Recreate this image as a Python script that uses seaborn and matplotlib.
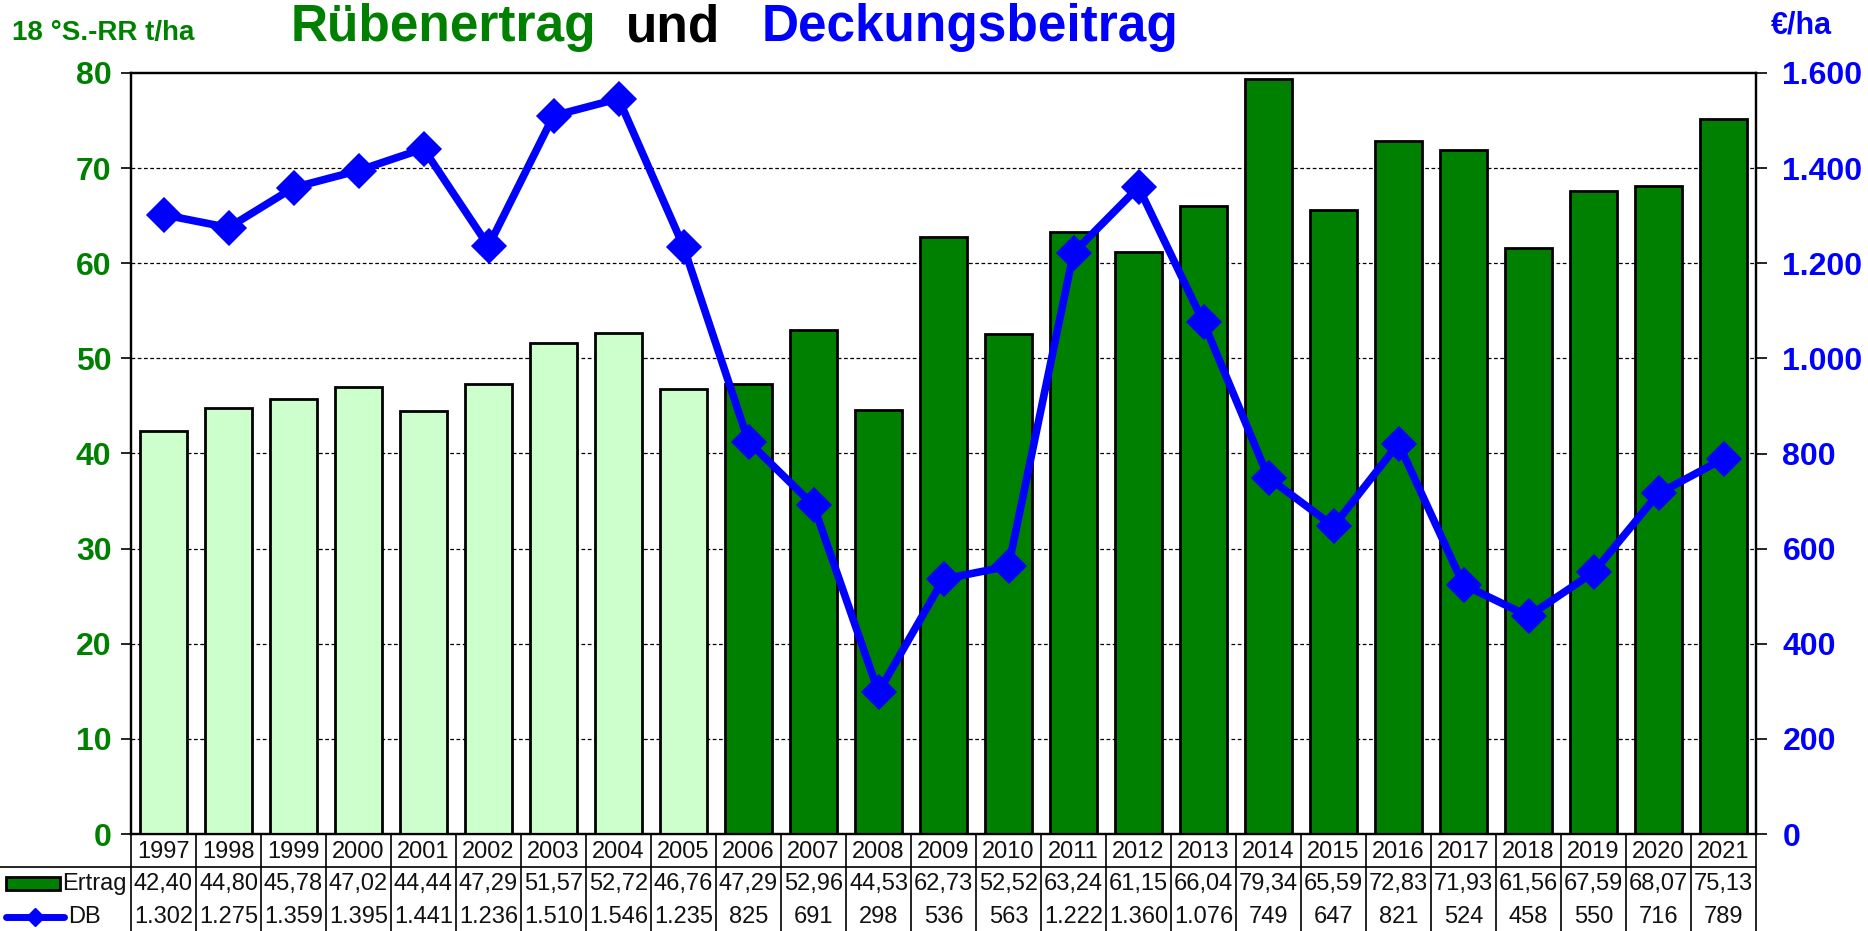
import matplotlib
matplotlib.use('Agg')
import matplotlib.pyplot as plt
import seaborn as sns
import pandas as pd
from matplotlib.transforms import blended_transform_factory
from matplotlib.lines import Line2D
from matplotlib.patches import Rectangle

# ---------------- data ----------------
years = [str(y) for y in range(1997, 2022)]
ertrag = [42.40, 44.80, 45.78, 47.02, 44.44, 47.29, 51.57, 52.72, 46.76,
          47.29, 52.96, 44.53, 62.73, 52.52, 63.24, 61.15, 66.04, 79.34,
          65.59, 72.83, 71.93, 61.56, 67.59, 68.07, 75.13]
db = [1302, 1275, 1359, 1395, 1441, 1236, 1510, 1546, 1235,
      825, 691, 298, 536, 563, 1222, 1360, 1076, 749,
      647, 821, 524, 458, 550, 716, 789]
periode = ['bis 2005'] * 9 + ['ab 2006'] * 16
left_ticks = [0, 10, 20, 30, 40, 50, 60, 70, 80]
right_ticks = [0, 200, 400, 600, 800, 1000, 1200, 1400, 1600]

df = pd.DataFrame({'Jahr': years, 'Ertrag': ertrag, 'DB': db, 'Periode': periode})

def de2(v):
    return f"{v:.2f}".replace('.', ',')

def de_int(v):
    return f"{v:,}".replace(',', '.')

# ---------------- style ----------------
sns.set_style('white')
plt.rcParams['font.family'] = ['Liberation Sans', 'DejaVu Sans']

GREEN_T = '#008000'
BLUE = '#0000FF'
TXT = '#111111'

W, H = 1868, 931
fig = plt.figure(figsize=(W / 100, H / 100), dpi=100)
L, R, T, B = 131, 1756, 73, 834
ax = fig.add_axes([L / W, 1 - B / H, (R - L) / W, (B - T) / H])

sns.barplot(data=df, x='Jahr', y='Ertrag', hue='Periode',
            palette={'bis 2005': '#CCFFCC', 'ab 2006': '#008000'},
            dodge=False, width=0.72, saturation=1, edgecolor='black',
            linewidth=2, legend=False, ax=ax, zorder=3)

ax.set_ylim(0, 80)
ax.set_xlim(-0.5, len(years) - 0.5)
ax.set_yticks(left_ticks)
ax.set_yticklabels([str(t) for t in left_ticks], color=GREEN_T,
                   fontsize=23, fontweight='bold')
ax.tick_params(axis='y', direction='out', length=7, width=1.2, pad=7,
               left=True, color='black')
ax.tick_params(axis='x', length=0, labelbottom=False)
ax.set_xlabel('')
ax.set_ylabel('')
for t in left_ticks[1:-1]:
    ax.axhline(t, color='black', lw=0.9, ls=(0, (3, 2)), zorder=1)
for s in ax.spines.values():
    s.set_color('black')
    s.set_linewidth(1.6)

ax2 = ax.twinx()
sns.pointplot(data=df, x='Jahr', y='DB', color=BLUE, markers='D',
              errorbar=None, ax=ax2, markersize=14, linewidth=5.5)
ax2.set_ylim(0, 1600)
ax2.set_xlim(-0.5, len(years) - 0.5)
ax2.set_yticks(right_ticks)
ax2.set_yticklabels([de_int(t) for t in right_ticks], color=BLUE,
                    fontsize=23, fontweight='bold')
ax2.tick_params(axis='y', direction='out', length=8, width=1.2, pad=11,
                right=True, color='black')
ax2.tick_params(axis='x', length=0, labelbottom=False)
ax2.set_xlabel('')
ax2.set_ylabel('')
for s in ax2.spines.values():
    s.set_color('black')
    s.set_linewidth(1.6)

# ---------------- data table ----------------
trans = blended_transform_factory(ax.transData, ax.transAxes)
ah = B - T
def ay(px):
    return -(px - B) / ah

y_bottom = ay(H)
for i in range(len(years) + 1):
    ax.add_line(Line2D([i - 0.5, i - 0.5], [0, y_bottom], transform=trans,
                       color='black', lw=1.2, clip_on=False))
fig.add_artist(Line2D([0, R / W], [1 - 867 / H] * 2, color='black', lw=1.2))

FS = 17
for i, yr in enumerate(years):
    ax.text(i, ay(852), yr, transform=trans, ha='center', va='center',
            fontsize=FS, color=TXT, clip_on=False)
    ax.text(i, ay(884), de2(ertrag[i]), transform=trans, ha='center',
            va='center', fontsize=FS, color=TXT, clip_on=False)
    ax.text(i, ay(917), de_int(db[i]), transform=trans, ha='center',
            va='center', fontsize=FS, color=TXT, clip_on=False)

# legend keys in the label column
fig.add_artist(Rectangle((6 / W, 1 - 890 / H), 54 / W, 13 / H,
                         facecolor=GREEN_T, edgecolor='black', lw=2))
fig.text(62 / W, 1 - 884 / H, 'Ertrag', ha='left', va='center', fontsize=FS,
         color=TXT)
fig.add_artist(Line2D([6 / W, 64 / W], [1 - 917 / H] * 2, color=BLUE, lw=5))
fig.add_artist(Line2D([35 / W], [1 - 917 / H], color=BLUE, marker='D',
                      markersize=9, lw=0))
fig.text(68 / W, 1 - 917 / H, 'DB', ha='left', va='center', fontsize=FS,
         color=TXT)

# ---------------- titles ----------------
fig.text(596 / W, 1 - 28 / H, 'Rübenertrag', ha='right', va='center',
         fontsize=37, fontweight='bold', color=GREEN_T)
fig.text(673 / W, 1 - 28 / H, 'und', ha='center', va='center',
         fontsize=37, fontweight='bold', color='black')
fig.text(762 / W, 1 - 28 / H, 'Deckungsbeitrag', ha='left', va='center',
         fontsize=37, fontweight='bold', color=BLUE)
fig.text(12 / W, 1 - 33 / H, '18 °S.-RR t/ha', ha='left', va='center',
         fontsize=20, fontweight='bold', color=GREEN_T)
fig.text(1771 / W, 1 - 26 / H, '€/ha', ha='left', va='center',
         fontsize=22, fontweight='bold', color=BLUE)

fig.savefig('out.png', dpi=100)
